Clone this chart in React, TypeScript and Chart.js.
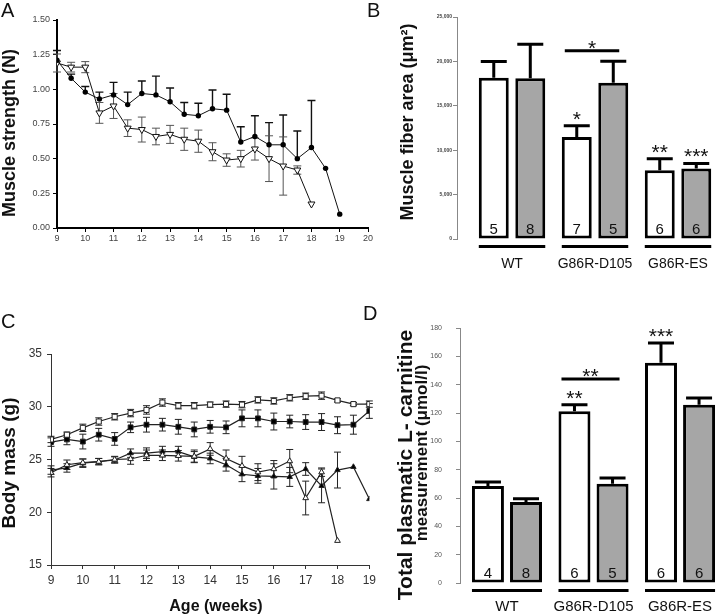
import React, { useEffect, useRef } from "react";
import { Chart, registerables } from "chart.js";

Chart.register(...registerables);

const FONT = '"Liberation Sans", Arial, Helvetica, sans-serif';
Chart.defaults.font.family = FONT;

// ---------------- Panel A : muscle strength ----------------
const weeksA = [9, 9.5, 10, 10.5, 11, 11.5, 12, 12.5, 13, 13.5, 14, 14.5, 15, 15.5, 16, 16.5, 17, 17.5, 18, 18.5, 19];
const strengthFilled = [1.21, 1.08, 0.98, 0.93, 0.96, 0.89, 0.97, 0.96, 0.91, 0.82, 0.81, 0.86, 0.85, 0.62, 0.66, 0.6, 0.6, 0.5, 0.58, 0.43, 0.1];
const strengthFilledErr = [0.07, 0.03, 0.04, 0.05, 0.09, 0.09, 0.09, 0.135, 0.1, 0.085, 0.09, 0.135, 0.115, 0.11, 0.15, 0.16, 0.215, 0.2, 0.34, 0, 0];
const weeksAOpen = [9, 9.5, 10, 10.5, 11, 11.5, 12, 12.5, 13, 13.5, 14, 14.5, 15, 15.5, 16, 16.5, 17, 17.5, 18];
const strengthOpen = [1.19, 1.16, 1.16, 0.83, 0.88, 0.72, 0.71, 0.66, 0.675, 0.64, 0.626, 0.55, 0.49, 0.5, 0.57, 0.5, 0.447, 0.418, 0.173];
const strengthOpenErr = [0.065, 0.035, 0.04, 0.075, 0.09, 0.06, 0.09, 0.06, 0.065, 0.08, 0.08, 0.065, 0.045, 0.06, 0.08, 0.165, 0.21, 0.03, 0];

// ---------------- Panel C : body mass ----------------
const weeksC = [9, 9.5, 10, 10.5, 11, 11.5, 12, 12.5, 13, 13.5, 14, 14.5, 15, 15.5, 16, 16.5, 17, 17.5, 18, 18.5, 19];
const massOpenSq = [26.9, 27.35, 28.0, 28.6, 29.05, 29.4, 29.7, 30.4, 30.1, 30.1, 30.2, 30.25, 30.2, 30.65, 30.55, 30.85, 31.0, 31.05, 30.6, 30.25, 30.25];
const massOpenSqErr = [0.3, 0.25, 0.35, 0.35, 0.3, 0.35, 0.4, 0.35, 0.3, 0.3, 0.25, 0.3, 0.3, 0.3, 0.3, 0.3, 0.3, 0.35, 0.15, 0.15, 0.3];
const massFilledSq = [26.65, 26.9, 26.7, 27.35, 26.95, 28.05, 28.3, 28.3, 28.1, 27.85, 28.1, 28.05, 28.9, 28.9, 28.6, 28.6, 28.55, 28.55, 28.25, 28.3, 29.6];
const massFilledSqErr = [0.4, 0.5, 0.7, 0.6, 0.6, 0.5, 0.7, 0.6, 0.7, 0.7, 0.6, 0.6, 0.8, 0.8, 0.8, 0.6, 0.7, 0.8, 0.8, 0.9, 0.7];
const weeksCOpenTri = [9, 9.5, 10, 10.5, 11, 11.5, 12, 12.5, 13, 13.5, 14, 14.5, 15, 15.5, 16, 16.5, 17, 17.5, 18];
const massOpenTri = [23.75, 24.5, 24.7, 24.8, 25.0, 25.05, 25.4, 25.4, 25.35, 25.3, 26.0, 25.1, 24.4, 23.8, 24.1, 24.85, 21.35, 23.8, 17.3];
const massOpenTriErr = [0.4, 0.45, 0.35, 0.3, 0.3, 0.5, 0.5, 0.5, 0.5, 0.6, 0.6, 0.8, 0.9, 0.8, 0.8, 1.1, 1.6, 0.4, 0];
const massFilledTri = [24.0, 24.2, 24.65, 24.8, 24.95, 25.6, 25.6, 25.75, 25.75, 25.25, 25.1, 24.5, 23.6, 23.45, 23.4, 23.35, 24.1, 22.5, 24.0, 24.3, 21.25];
const massFilledTriErr = [0.4, 0.4, 0.4, 0.3, 0.3, 0.4, 0.5, 0.5, 0.5, 0.5, 0.5, 0.6, 0.7, 0.7, 1.2, 0.9, 0.6, 1.6, 1.7, 0, 0];

// ---------------- Panels B and D : bars ----------------
const groups = ["WT", "G86R-D105", "G86R-ES"];

const fiberWhite = [18170, 11480, 7750];
const fiberWhiteErr = [1810, 1270, 1280];
const fiberGray = [18100, 17600, 7950];
const fiberGrayErr = [3840, 2420, 560];
const fiberNWhite = [5, 7, 6];
const fiberNGray = [8, 5, 6];
const fiberStarsWhite = ["", "*", "**"];
const fiberStarsGray = ["", "", "***"];
const fiberBracket = { group: 1, value: 21200, label: "*" };

const carnWhite = [68.5, 121.2, 155.5];
const carnWhiteErr = [2.8, 4.7, 13.9];
const carnGray = [57.2, 70.1, 125.9];
const carnGrayErr = [2.3, 4.0, 4.7];
const carnNWhite = [4, 6, 6];
const carnNGray = [8, 5, 6];
const carnStarsWhite = ["", "**", "***"];
const carnStarsGray = ["", "", ""];
const carnBracket = { group: 1, value: 144, label: "**" };

const BAR_GRAY = "#a6a6a6";

// ---------------- plugins ----------------
function drawErrors(chart: any, layer: string) {
  const ctx = chart.ctx;
  chart.data.datasets.forEach((ds: any, di: number) => {
    const eb = ds.errorBars;
    if (!eb || (eb.layer || "before") !== layer) return;
    const meta = chart.getDatasetMeta(di);
    const ys = chart.scales[meta.yAxisID];
    ctx.save();
    ctx.strokeStyle = eb.color;
    ctx.lineWidth = eb.width;
    meta.data.forEach((el: any, i: number) => {
      const raw = ds.data[i];
      const v = typeof raw === "number" ? raw : raw.y;
      const up = eb.up ? eb.up[i] : 0;
      const dn = eb.down ? eb.down[i] : 0;
      if (!up && !dn) return;
      const x = el.x;
      const yT = ys.getPixelForValue(v + (up || 0));
      const yB = ys.getPixelForValue(v - (dn || 0));
      ctx.beginPath();
      ctx.moveTo(x, yT);
      ctx.lineTo(x, yB);
      if (up) {
        ctx.moveTo(x - eb.cap, yT);
        ctx.lineTo(x + eb.cap, yT);
      }
      if (dn) {
        ctx.moveTo(x - eb.cap, yB);
        ctx.lineTo(x + eb.cap, yB);
      }
      ctx.stroke();
    });
    ctx.restore();
  });
}

const errorBars = {
  id: "errorBars",
  beforeDatasetsDraw(chart: any) {
    drawErrors(chart, "before");
  },
  afterDatasetsDraw(chart: any) {
    drawErrors(chart, "after");
  },
};

type TextItem = { text: string; x: number; y: number; font: string; rotate?: boolean; color?: string };
const texts = (items: TextItem[]) => ({
  id: "texts",
  afterDraw(chart: any) {
    const ctx = chart.ctx;
    items.forEach((t) => {
      ctx.save();
      ctx.font = t.font;
      ctx.fillStyle = t.color || "#111";
      ctx.textAlign = "center";
      ctx.textBaseline = "alphabetic";
      ctx.translate(t.x, t.y);
      if (t.rotate) ctx.rotate(-Math.PI / 2);
      ctx.fillText(t.text, 0, 0);
      ctx.restore();
    });
  },
});

type Decor = {
  n: number[][];
  stars: string[][];
  bracket: { group: number; value: number; label: string };
  nFont: string;
  starFont: string;
};
const barDecor = (o: Decor) => ({
  id: "barDecor",
  afterDatasetsDraw(chart: any) {
    const ctx = chart.ctx;
    const area = chart.chartArea;
    const ys = chart.scales.y;
    const metas = [chart.getDatasetMeta(0), chart.getDatasetMeta(1)];
    ctx.save();
    ctx.fillStyle = "#111";
    ctx.strokeStyle = "#000";
    ctx.textAlign = "center";
    ctx.textBaseline = "alphabetic";
    metas.forEach((m: any, di: number) => {
      const ds: any = chart.data.datasets[di];
      m.data.forEach((el: any, i: number) => {
        ctx.font = o.nFont;
        ctx.fillText(String(o.n[di][i]), el.x, area.bottom - 5);
        const s = o.stars[di][i];
        if (s) {
          const top = ds.data[i].y + ds.errorBars.up[i];
          ctx.font = o.starFont;
          ctx.fillText(s, el.x, ys.getPixelForValue(top));
        }
      });
    });
    // group underlines
    ctx.fillStyle = "#000";
    metas[0].data.forEach((el: any, i: number) => {
      const e1: any = metas[1].data[i];
      const l = el.x - el.width / 2;
      const r = e1.x + e1.width / 2;
      ctx.fillRect(l, area.bottom + 6, r - l, 3);
    });
    // significance bracket
    const b = o.bracket;
    const w: any = metas[0].data[b.group];
    const g: any = metas[1].data[b.group];
    const l = w.x - w.width / 2 + 3;
    const r = g.x + g.width / 2 - 9;
    const y = ys.getPixelForValue(b.value);
    ctx.lineWidth = 3;
    ctx.beginPath();
    ctx.moveTo(l, y);
    ctx.lineTo(r, y);
    ctx.stroke();
    ctx.font = o.starFont;
    ctx.fillStyle = "#111";
    ctx.fillText(b.label, (l + r) / 2, y + 4);
    ctx.restore();
  },
});

// ---------------- chart builders ----------------
const baseOptions = {
  animation: false,
  responsive: false,
  devicePixelRatio: 1,
  plugins: { legend: { display: false }, tooltip: { enabled: false } },
};

const pts = (xs: number[], ys: number[]) => xs.map((x, i) => ({ x, y: ys[i] }));

const buildA = () => ({
  type: "line",
  data: {
    datasets: [
      {
        data: pts(weeksA, strengthFilled),
        borderColor: "#111",
        borderWidth: 1,
        pointStyle: "circle",
        pointRadius: 2.7,
        pointBackgroundColor: "#000",
        pointBorderColor: "#000",
        pointBorderWidth: 0,
        errorBars: { up: strengthFilledErr, color: "#111", width: 1.4, cap: 4 },
      },
      {
        data: pts(weeksAOpen, strengthOpen),
        borderColor: "#111",
        borderWidth: 1,
        pointStyle: "triangle",
        pointRotation: 180,
        pointRadius: 4,
        pointBackgroundColor: "#fff",
        pointBorderColor: "#111",
        pointBorderWidth: 1,
        errorBars: { up: strengthOpenErr, down: strengthOpenErr, color: "#555", width: 1, cap: 4 },
      },
    ],
  },
  options: {
    ...baseOptions,
    layout: { padding: { left: 0, top: 20, right: 12, bottom: 0 } },
    scales: {
      x: {
        type: "linear",
        min: 9,
        max: 20,
        bounds: "data",
        afterFit: (s: any) => {
          s.height = 62;
        },
        ticks: { stepSize: 1, font: { size: 9 }, color: "#444", padding: 1, maxRotation: 0, autoSkip: false },
        grid: { drawOnChartArea: false, tickLength: 4, color: "#000" },
        border: { color: "#000", width: 2 },
      },
      y: {
        min: 0,
        max: 1.5,
        afterFit: (s: any) => {
          s.width = 57;
        },
        ticks: { stepSize: 0.25, callback: (v: any) => Number(v).toFixed(2), font: { size: 9 }, color: "#444", padding: 3 },
        grid: { drawOnChartArea: false, tickLength: 4, color: "#000" },
        border: { color: "#000", width: 2 },
      },
    },
  },
  plugins: [errorBars, texts([{ text: "Muscle strength (N)", x: 15, y: 133, font: `bold 18px ${FONT}`, rotate: true }])],
});

const buildC = () => {
  const line = { borderColor: "#222", borderWidth: 1.2, pointBorderColor: "#222", pointBorderWidth: 1 };
  const eb = { color: "#222", width: 1, cap: 3.5 };
  return {
    type: "line",
    data: {
      datasets: [
        {
          ...line,
          data: pts(weeksC, massOpenSq),
          pointStyle: "rect",
          pointRadius: 3.6,
          pointBackgroundColor: "#fff",
          errorBars: { ...eb, up: massOpenSqErr, down: massOpenSqErr },
        },
        {
          ...line,
          data: pts(weeksC, massFilledSq),
          pointStyle: "rect",
          pointRadius: 3.4,
          pointBackgroundColor: "#000",
          errorBars: { ...eb, up: massFilledSqErr, down: massFilledSqErr },
        },
        {
          ...line,
          data: pts(weeksCOpenTri, massOpenTri),
          pointStyle: "triangle",
          pointRadius: 3.3,
          pointBackgroundColor: "#fff",
          errorBars: { ...eb, up: massOpenTriErr, down: massOpenTriErr },
        },
        {
          ...line,
          data: pts(weeksC, massFilledTri),
          pointStyle: "triangle",
          pointRadius: 3.1,
          pointBackgroundColor: "#000",
          errorBars: { ...eb, up: massFilledTriErr, down: massFilledTriErr },
        },
      ],
    },
    options: {
      ...baseOptions,
      layout: { padding: { left: 0, top: 24, right: 10, bottom: 0 } },
      scales: {
        x: {
          type: "linear",
          min: 9,
          max: 19,
          bounds: "data",
          afterFit: (s: any) => {
            s.height = 49;
          },
          ticks: { stepSize: 1, font: { size: 12 }, color: "#333", padding: 4, maxRotation: 0, autoSkip: false },
          grid: { drawOnChartArea: false, tickLength: 4, color: "#333" },
          border: { color: "#333", width: 1 },
        },
        y: {
          min: 15,
          max: 35,
          afterFit: (s: any) => {
            s.width = 51;
          },
          ticks: { stepSize: 5, font: { size: 12 }, color: "#333", padding: 5 },
          grid: { drawOnChartArea: false, tickLength: 4, color: "#333" },
          border: { color: "#333", width: 1 },
        },
      },
    },
    plugins: [
      errorBars,
      texts([
        { text: "Body mass (g)", x: 15, y: 133, font: `bold 19px ${FONT}`, rotate: true },
        { text: "Age (weeks)", x: 216, y: 281, font: `bold 16px ${FONT}` },
      ]),
    ],
  };
};

const buildBars = (p: {
  white: number[];
  whiteErr: number[];
  gray: number[];
  grayErr: number[];
  yMax: number;
  step: number;
  xMin: number;
  xMax: number;
  padTop: number;
  yWidth: number;
  xHeight: number;
  yTickFont: any;
  yTickColor: string;
  yTickPad: number;
  barPct: number;
  groupFont: number;
  groupPad: number;
  decor: Decor;
  titles: TextItem[];
}) => ({
  type: "bar",
  data: {
    datasets: [
      {
        data: pts([1, 2, 3], p.white),
        backgroundColor: "#fff",
        borderColor: "#000",
        borderWidth: 3,
        borderSkipped: false,
        categoryPercentage: 0.88,
        barPercentage: p.barPct,
        errorBars: { up: p.whiteErr, color: "#000", width: 3, cap: 13, layer: "after" },
      },
      {
        data: pts([1, 2, 3], p.gray),
        backgroundColor: BAR_GRAY,
        borderColor: "#000",
        borderWidth: 3,
        borderSkipped: false,
        categoryPercentage: 0.88,
        barPercentage: p.barPct,
        errorBars: { up: p.grayErr, color: "#000", width: 3, cap: 13, layer: "after" },
      },
    ],
  },
  options: {
    ...baseOptions,
    layout: { padding: { left: 0, top: p.padTop, right: 0, bottom: 0 } },
    scales: {
      x: {
        type: "linear",
        min: p.xMin,
        max: p.xMax,
        bounds: "data",
        offset: false,
        afterFit: (s: any) => {
          s.height = p.xHeight;
        },
        afterBuildTicks: (s: any) => {
          s.ticks = groups.map((_, i) => ({ value: i + 1 }));
        },
        ticks: {
          callback: (v: any) => groups[Math.round(Number(v)) - 1],
          font: { size: p.groupFont },
          color: "#111",
          padding: p.groupPad,
          autoSkip: false,
          maxRotation: 0,
        },
        grid: { display: false },
        border: { display: false },
      },
      y: {
        min: 0,
        max: p.yMax,
        afterFit: (s: any) => {
          s.width = p.yWidth;
        },
        ticks: { stepSize: p.step, font: p.yTickFont, color: p.yTickColor, padding: p.yTickPad },
        grid: { drawOnChartArea: false, tickLength: 4, color: "#888" },
        border: { color: "#888", width: 1 },
      },
    },
  },
  plugins: [errorBars, barDecor(p.decor), texts(p.titles)],
});

const buildB = () =>
  buildBars({
    white: fiberWhite,
    whiteErr: fiberWhiteErr,
    gray: fiberGray,
    grayErr: fiberGrayErr,
    yMax: 25000,
    step: 5000,
    xMin: 0.337,
    xMax: 3.506,
    padTop: 17,
    yWidth: 97,
    xHeight: 51,
    yTickFont: { size: 5, weight: "bold" },
    yTickColor: "#444",
    yTickPad: 1,
    barPct: 0.82,
    groupFont: 14,
    groupPad: 9,
    decor: {
      n: [fiberNWhite, fiberNGray],
      stars: [fiberStarsWhite, fiberStarsGray],
      bracket: fiberBracket,
      nFont: `15px ${FONT}`,
      starFont: `21px ${FONT}`,
    },
    titles: [{ text: "Muscle fiber area (\u03bcm\u00b2)", x: 53, y: 122, font: `bold 18px ${FONT}`, rotate: true }],
  });

const buildD = () =>
  buildBars({
    white: carnWhite,
    whiteErr: carnWhiteErr,
    gray: carnGray,
    grayErr: carnGrayErr,
    yMax: 180,
    step: 20,
    xMin: 0.457,
    xMax: 3.462,
    padTop: 28,
    yWidth: 100,
    xHeight: 31,
    yTickFont: { size: 7 },
    yTickColor: "#555",
    yTickPad: 14,
    barPct: 0.84,
    groupFont: 15,
    groupPad: 7,
    decor: {
      n: [carnNWhite, carnNGray],
      stars: [carnStarsWhite, carnStarsGray],
      bracket: carnBracket,
      nFont: `15px ${FONT}`,
      starFont: `21px ${FONT}`,
    },
    titles: [
      { text: "Total plasmatic L- carnitine", x: 52, y: 165, font: `bold 21px ${FONT}`, rotate: true },
      { text: "measurement (\u03bcmol/l)", x: 67, y: 153, font: `bold 17px ${FONT}`, rotate: true },
    ],
  });

function ChartCanvas(props: { left: number; top: number; width: number; height: number; build: () => any }) {
  const ref = useRef<HTMLCanvasElement | null>(null);
  useEffect(() => {
    if (!ref.current) return;
    const chart = new Chart(ref.current, props.build());
    return () => chart.destroy();
  }, []);
  return (
    <canvas
      ref={ref}
      width={props.width}
      height={props.height}
      style={{ position: "absolute", left: props.left, top: props.top, width: props.width, height: props.height, display: "block" }}
    />
  );
}

function Letter(props: { text: string; left: number; top: number }) {
  return (
    <div
      style={{
        position: "absolute",
        left: props.left,
        top: props.top,
        fontFamily: FONT,
        fontSize: 20,
        lineHeight: "20px",
        color: "#111",
      }}
    >
      {props.text}
    </div>
  );
}

export default function App() {
  return (
    <div style={{ position: "absolute", left: 0, top: 0, width: 720, height: 614, background: "#fff", overflow: "hidden" }}>
      <ChartCanvas left={0} top={0} width={380} height={290} build={buildA} />
      <ChartCanvas left={0} top={330} width={380} height={284} build={buildC} />
      <ChartCanvas left={360} top={0} width={360} height={290} build={buildB} />
      <ChartCanvas left={360} top={300} width={360} height={314} build={buildD} />
      <Letter text="A" left={1} top={0} />
      <Letter text="B" left={367} top={0} />
      <Letter text="C" left={1} top={311} />
      <Letter text="D" left={363} top={303} />
    </div>
  );
}
